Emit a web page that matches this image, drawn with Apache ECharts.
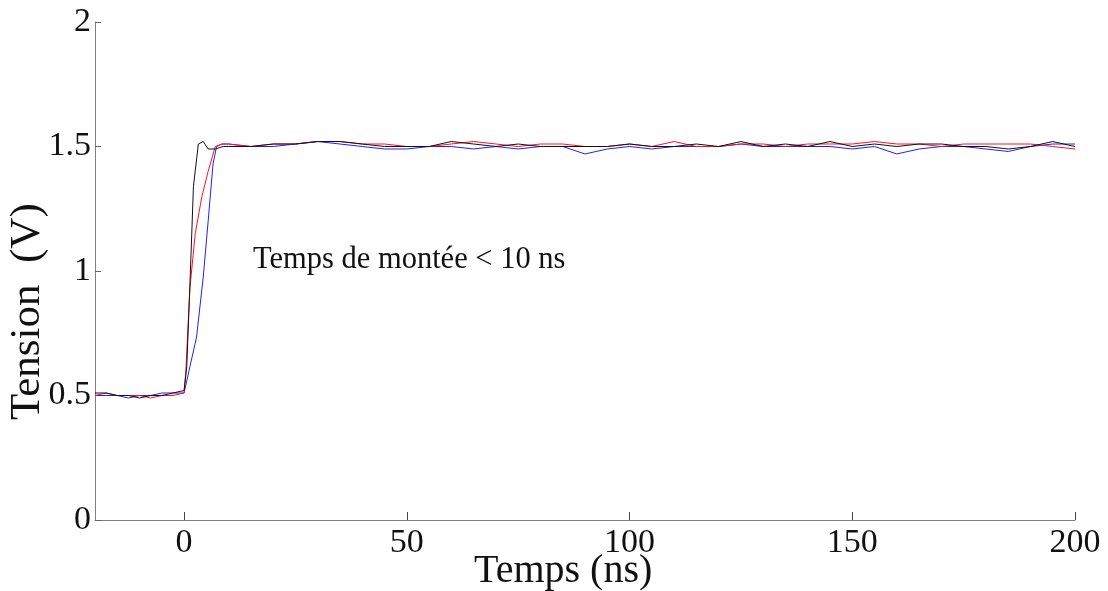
<!DOCTYPE html>
<html>
<head>
<meta charset="utf-8">
<script src="https://cdn.jsdelivr.net/npm/echarts@6/dist/echarts.min.js"></script>
<style>html,body{margin:0;padding:0;background:#fff}#c{width:1108px;height:591px}</style>
</head>
<body>
<div id="c"></div>
<script>
const xTickValues = [0, 50, 100, 150, 200];
const plateauTime = [10,15,20,25,30,35,40,45,50,55,60,65,70,75,80,85,90,95,100,105,110,115,120,125,130,135,140,145,150,155,160,165,170,175,180,185,190,195,200];

const blackTime = [-20,-17.5,-15,-12.5,-10,-7.5,-5,-2.5,0,0.6,1.3,2.1,3.2,4.3,5.4,7,8.8];
const blackRise = [0.51,0.51,0.50,0.50,0.49,0.50,0.50,0.51,0.52,0.615,0.94,1.34,1.51,1.52,1.49,1.49,1.50];
const blackPlateau = [1.50,1.50,1.51,1.51,1.52,1.52,1.51,1.50,1.50,1.50,1.52,1.51,1.50,1.51,1.50,1.50,1.50,1.50,1.51,1.50,1.50,1.51,1.50,1.52,1.50,1.51,1.50,1.52,1.50,1.51,1.50,1.51,1.51,1.50,1.50,1.49,1.50,1.52,1.50];

const redTime = [-20,-17.5,-15,-12.5,-10,-7.5,-5,-2.5,0,0.4,1.3,2.5,4,5.4,7,8.5];
const redRise = [0.50,0.51,0.50,0.50,0.50,0.49,0.50,0.50,0.51,0.60,0.93,1.15,1.30,1.40,1.50,1.51];
const redPlateau = [1.51,1.50,1.51,1.51,1.52,1.52,1.51,1.51,1.50,1.50,1.51,1.52,1.51,1.50,1.51,1.51,1.50,1.50,1.51,1.50,1.52,1.50,1.50,1.51,1.51,1.50,1.51,1.51,1.51,1.52,1.51,1.51,1.50,1.51,1.51,1.51,1.51,1.50,1.49];

const blueTime = [-20,-17.5,-15,-12.5,-10,-7.5,-5,-2.5,0,1.3,2.8,4.3,5.4,6.5,7.3,8.5];
const blueRise = [0.50,0.50,0.50,0.49,0.50,0.50,0.51,0.51,0.51,0.615,0.735,0.976,1.20,1.43,1.50,1.51];
const bluePlateau = [1.51,1.50,1.50,1.51,1.52,1.51,1.50,1.49,1.49,1.50,1.50,1.49,1.50,1.49,1.50,1.50,1.47,1.49,1.50,1.49,1.50,1.50,1.50,1.51,1.50,1.50,1.50,1.50,1.49,1.50,1.47,1.49,1.50,1.50,1.49,1.48,1.50,1.51,1.51];

function pairs(t1, v1, t2, v2) {
  const out = [];
  t1.forEach((t, i) => out.push([t, v1[i]]));
  t2.forEach((t, i) => out.push([t, v2[i]]));
  return out;
}

const serif = '"Liberation Serif", "DejaVu Serif", serif';
const chart = echarts.init(document.getElementById('c'));
chart.setOption({
  animation: false,
  grid: { left: 95, right: 33, top: 22, bottom: 71, containLabel: false },
  xAxis: {
    type: 'value', min: -20, max: 200,
    axisLine: { show: true, onZero: false, lineStyle: { color: '#808080', width: 1 } },
    axisTick: { show: true, inside: true, length: 8, customValues: xTickValues, lineStyle: { color: '#444' } },
    axisLabel: { customValues: xTickValues, fontFamily: serif, fontSize: 34, color: '#111', margin: 6 },
    splitLine: { show: false }
  },
  yAxis: {
    type: 'value', min: 0, max: 2, interval: 0.5,
    axisLine: { show: true, onZero: false, lineStyle: { color: '#808080', width: 1 } },
    axisTick: { show: true, inside: true, length: 6, lineStyle: { color: '#666' } },
    axisLabel: { fontFamily: serif, fontSize: 34, color: '#111', margin: 4 },
    splitLine: { show: false }
  },
  series: [
    { type: 'line', showSymbol: false, data: pairs(blueTime, blueRise, plateauTime, bluePlateau), lineStyle: { color: '#2020ff', width: 1 } },
    { type: 'line', showSymbol: false, data: pairs(redTime, redRise, plateauTime, redPlateau), lineStyle: { color: '#ff1020', width: 1 } },
    { type: 'line', showSymbol: false, data: pairs(blackTime, blackRise, plateauTime, blackPlateau), lineStyle: { color: '#111', width: 1 } }
  ],
  graphic: [
    { type: 'text', left: 253, top: 244, style: { text: 'Temps de montée < 10 ns', font: '30.5px ' + serif, fill: '#111' } },
    { type: 'text', left: 474, top: 551, style: { text: 'Temps (ns)', font: '40px ' + serif, fill: '#111' } },
    { type: 'text', x: 6, y: 420, rotation: Math.PI / 2, style: { text: 'Tension  (V)', font: '43px ' + serif, fill: '#111', align: 'left', verticalAlign: 'top' } }
  ]
});
</script>
</body>
</html>
